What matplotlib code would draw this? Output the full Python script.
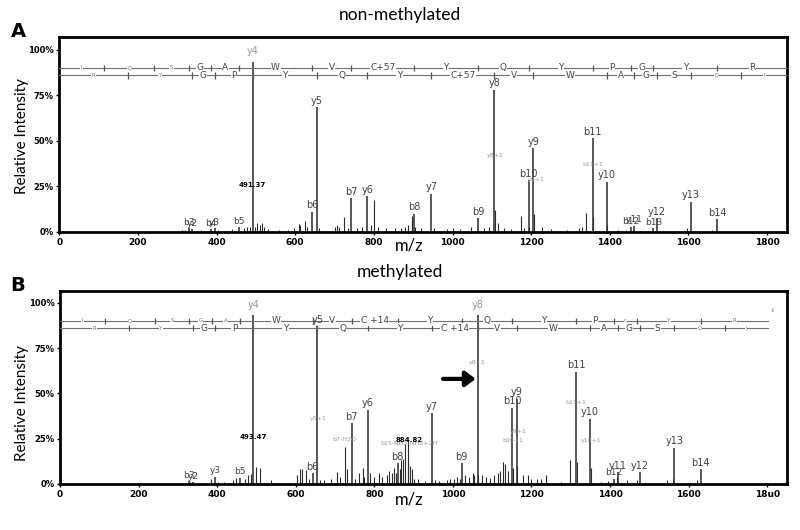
import matplotlib
matplotlib.use("Agg")
import matplotlib.pyplot as plt

# ── Data ──────────────────────────────────────────────────────────────────────
# ion series (m/z) for IQSGAWVCYQYPGYR, carbamidomethyl (+57) vs methyl (+14) Cys
b_ions_a = [114.1, 242.2, 329.2, 386.2, 457.2, 643.3, 742.4, 902.4, 1065.5,
            1193.5, 1356.6, 1453.6, 1510.7, 1673.7]
y_ions_a = [175.1, 338.2, 395.2, 492.3, 655.3, 783.4, 946.4, 1106.5, 1205.5,
            1391.6, 1462.7, 1519.7, 1606.7, 1734.8]
b_ions_b = [114.1, 242.2, 329.2, 386.2, 457.2, 643.3, 742.4, 859.4, 1022.5,
            1150.5, 1313.6, 1410.6, 1467.7, 1630.7]
y_ions_b = [175.1, 338.2, 395.2, 492.3, 655.3, 783.4, 946.4, 1063.5, 1162.5,
            1348.6, 1419.7, 1476.7, 1563.7, 1691.8]

seq_top_a = ["I", "Q", "S", "G", "A", "W", "V", "C+57", "Y", "Q", "Y", "P", "G", "Y", "R"]
seq_bot_a = ["R", "Y", "G", "P", "Y", "Q", "Y", "C+57", "V", "W", "A", "G", "S", "Q", "I"]
seq_top_b = ["I", "Q", "S", "G", "A", "W", "V", "C +14", "Y", "Q", "Y", "P", "c", "Y", "R"]
seq_bot_b = ["R", "Y", "G", "P", "Y", "Q", "Y", "C +14", "V", "W", "A", "G", "S", "Q", "I"]
ladder_end_a = 1851
ladder_end_b = 1802

# labelled peaks: (label, m/z, relative intensity %)
lab_a = ["b3", "y2", "b4", "y3", "b5", "y4", "b6", "y5", "b7", "y6", "b8", "y7",
         "b9", "y8", "b10", "y9", "b11", "y10", "b12", "y11", "b13", "y12", "y13", "b14"]
mz_a = [329.2, 338.2, 386.2, 395.2, 457.2, 492.3, 643.3, 655.3, 742.4, 783.4, 902.4,
        946.4, 1065.5, 1106.5, 1193.5, 1205.5, 1356.6, 1391.6, 1453.6, 1462.7,
        1510.7, 1519.7, 1606.7, 1673.7]
int_a = [2.0, 1.5, 1.5, 2.0, 2.5, 93.5, 11.0, 68.5, 18.5, 19.5, 10.0, 21.0,
         7.5, 78.0, 28.5, 46.0, 51.5, 27.5, 2.5, 3.5, 2.0, 7.5, 16.5, 7.0]

lab_b = ["b3", "y2", "y3", "b5", "y4", "b6", "y5", "b7", "y6", "b8", "y7", "b9",
         "y8", "b10", "y9", "b11", "y10", "b12", "y11", "y12", "y13", "b14"]
mz_b = [329.2, 338.2, 395.2, 457.2, 492.3, 643.3, 655.3, 742.4, 783.4, 859.4,
        946.4, 1022.5, 1063.5, 1150.5, 1162.5, 1313.6, 1348.6, 1410.6, 1419.7,
        1476.7, 1563.7, 1630.7]
int_b = [1.5, 1.0, 4.0, 3.5, 93.0, 6.0, 87.0, 33.5, 41.0, 11.5, 39.0, 11.5,
         93.0, 42.0, 47.0, 62.0, 36.0, 3.0, 6.5, 6.5, 20.0, 8.0]

# unlabelled peaks
noise_mz_a = [300, 312, 320, 345, 360, 372, 404, 420, 440, 470, 478, 485, 497, 503,
              510, 515, 521, 532, 560, 582, 598, 609, 612, 625, 630, 660, 700, 707,
              712, 725, 735, 758, 770, 792, 801, 810, 830, 855, 870, 880, 888, 897,
              905, 920, 952, 985, 1000, 1020, 1048, 1080, 1093, 1107.5, 1115, 1130,
              1150, 1175, 1182, 1195, 1207, 1228, 1250, 1290, 1322, 1328, 1340,
              1357.6, 1393, 1420, 1440, 1595, 1660]
noise_int_a = [0.8, 1.0, 1.2, 0.8, 1.0, 0.7, 1.0, 0.8, 1.5, 2.0, 3.0, 2.5, 3.0, 5.0,
               4.0, 5.0, 3.0, 1.5, 1.0, 1.0, 2.0, 4.5, 4.0, 6.0, 3.0, 2.0, 3.0, 4.0,
               2.5, 8.0, 2.0, 2.0, 3.0, 4.0, 17.5, 3.0, 2.0, 2.0, 2.0, 3.0, 4.0, 9.0,
               2.5, 2.0, 2.0, 1.5, 2.0, 1.5, 3.0, 2.0, 3.0, 12.0, 5.0, 2.0,
               1.5, 8.5, 2.0, 3.0, 10.0, 3.0, 1.5, 1.0, 2.0, 3.0, 10.5,
               8.0, 4.0, 1.0, 1.0, 2.0, 1.0]

noise_mz_b = [300, 330, 385, 402, 418, 440, 447, 470, 478, 486, 500, 510, 538, 602,
              610, 615, 625, 635, 662, 672, 690, 705, 712, 724.4, 730, 752, 760, 770,
              775, 790, 800, 812, 820, 832, 838, 845, 851, 855, 865, 868, 872, 878,
              884.8, 887, 890, 895, 900, 910, 930, 955, 965, 985, 992, 1002, 1010,
              1018, 1030, 1040, 1050, 1055, 1065, 1075, 1085, 1095, 1105, 1115, 1120,
              1128, 1132, 1140, 1152, 1164, 1178, 1190, 1200, 1215, 1225, 1236, 1275,
              1298, 1315, 1350.6, 1378, 1395, 1418, 1442, 1468, 1545, 1560, 1622]
noise_int_b = [0.5, 1.0, 3.0, 1.0, 1.0, 2.0, 3.5, 3.0, 5.0, 5.5, 9.5, 9.0, 2.0, 5.0,
               8.5, 8.0, 7.5, 3.0, 2.0, 2.0, 2.5, 6.5, 4.0, 20.5, 8.0, 3.0, 6.0, 9.0,
               4.0, 6.0, 4.0, 6.0, 4.0, 5.0, 7.0, 6.0, 9.0, 6.0, 8.0, 13.0, 14.0, 22.0,
               24.5, 12.0, 10.0, 8.0, 3.0, 3.0, 1.5, 2.0, 1.5, 2.0, 3.0, 3.0, 4.0,
               3.0, 5.0, 4.0, 6.0, 5.0, 5.0, 5.0, 4.0, 3.5, 5.0, 6.0, 7.0,
               12.0, 11.0, 7.0, 9.0, 10.0, 5.0, 5.0, 3.0, 2.5, 3.0, 5.0, 1.0,
               13.0, 12.0, 9.0, 1.0, 1.5, 4.0, 2.0, 2.0, 2.0, 3.0, 2.0]

# faint annotations: (text, m/z, %)
note_a = [("y8+1", 1108, 42), ("b11+1", 1356, 37), ("y9+1", 1213, 29)]
note_b = [("y5+1", 657, 36), ("b7-H2O", 724, 24.5), ("b15-NH3-NH3+2H", 888, 22.5),
          ("y8+1", 1063, 67), ("b11+1", 1312, 45), ("y9+1", 1167, 29),
          ("b10+1", 1152, 24), ("y10+1", 1353, 24)]
mass_a = ("491.37", 492, 26)
mass_b = [("493.47", 492, 26), ("884.82", 888, 24.5)]

xticks = [0, 200, 400, 600, 800, 1000, 1200, 1400, 1600, 1800]
xlabels_a = ["0", "200", "400", "600", "800", "1000", "1200", "1400", "1600", "1800"]
xlabels_b = ["0", "200", "400", "600", "800", "1000", "1200", "1400", "1600", "18u0"]
yticks = [0, 25, 50, 75, 100]
ylabels = ["0%", "25%", "50%", "75%", "100%"]

TEXT_FONT = ["Lato", "DejaVu Sans"]
PEAK_COL = "#2b2b2b"
LAB_COL = "#444444"
FAINT = "#9a9a9a"


def draw_ladder(ax, ions, residues, end, y, small):
    bounds = [0] + ions + [end]
    ax.plot([0, end], [y, y], color="#707070", lw=0.8, zorder=3)
    ax.vlines(ions, y - 1.8, y + 1.8, color="#555555", lw=0.9, zorder=3)
    for i, res in enumerate(residues):
        xm = (bounds[i] + bounds[i + 1]) / 2
        sm = i in small
        ax.text(xm, y, res, ha="center", va="center",
                fontsize=3.8 if sm else 6.5, color="#777777" if sm else "#444444",
                bbox=dict(facecolor="white", edgecolor="none", pad=0.3), zorder=4)


def draw_panel(ax, labels, mz, inten, nmz, nint, ymax, xlabels, faint_labels):
    ax.vlines(nmz, 0, nint, color=PEAK_COL, lw=0.8, zorder=2)
    ax.vlines(mz, 0, inten, color=PEAK_COL, lw=1.1, zorder=2)
    for lab, x, h in zip(labels, mz, inten):
        faint = lab in faint_labels
        ax.text(x, h + (3 if faint else 0.8), lab, ha="center", va="bottom",
                fontsize=6.5 if h < 5 else 7, color=FAINT if faint else LAB_COL, zorder=5)
    ax.set_xlim(0, 1851)
    ax.set_ylim(0, ymax)
    ax.set_xticks(xticks)
    ax.set_xticklabels(xlabels, fontsize=6.5, fontweight="bold")
    ax.set_yticks(yticks)
    ax.set_yticklabels(ylabels, fontsize=6, fontweight="bold")
    ax.tick_params(length=2.5, width=1, pad=1.5)
    for s in ax.spines.values():
        s.set_linewidth(2)


fig = plt.figure(figsize=(8, 5.3), dpi=100)
ax_a = fig.add_axes([0.074, 0.5623, 0.91, 0.368])
ax_b = fig.add_axes([0.075, 0.0868, 0.909, 0.3642])

# ── A: non-methylated ─────────────────────────────────────────────────────────
draw_panel(ax_a, lab_a, mz_a, int_a, noise_mz_a, noise_int_a, 107, xlabels_a, ["y4"])
draw_ladder(ax_a, b_ions_a, seq_top_a, ladder_end_a, 90, [0, 1, 2])
draw_ladder(ax_a, y_ions_a, seq_bot_a, ladder_end_a, 86, [0, 1, 13, 14])
for txt, x, h in note_a:
    ax_a.text(x, h, txt, ha="center", va="center", fontsize=4.5, color=FAINT, zorder=5)
ax_a.text(mass_a[1], mass_a[2], mass_a[0], ha="center", va="center",
          fontsize=5, fontweight="bold", color="black", zorder=5)

# ── B: methylated ─────────────────────────────────────────────────────────────
draw_panel(ax_b, lab_b, mz_b, int_b, noise_mz_b, noise_int_b, 106.5, xlabels_b, ["y4", "y8"])
draw_ladder(ax_b, b_ions_b, seq_top_b, ladder_end_b, 90, [0, 1, 2, 3, 4, 12, 13, 14])
draw_ladder(ax_b, y_ions_b, seq_bot_b, ladder_end_b, 86, [0, 1, 13, 14])
for txt, x, h in note_b:
    ax_b.text(x, h, txt, ha="center", va="center", fontsize=4.5, color=FAINT, zorder=5)
for txt, x, h in mass_b:
    ax_b.text(x, h, txt, ha="center", va="center", fontsize=5, fontweight="bold",
              color="black", zorder=6)
ax_b.text(1812, 96, "i", ha="center", va="center", fontsize=4.5, color="#333333")
ax_b.annotate("", xy=(1058, 58), xytext=(975, 58),
              arrowprops=dict(arrowstyle="-|>,head_length=0.6,head_width=0.45",
                              lw=3, color="black", shrinkA=0, shrinkB=0))

# ── Titles, axis labels & panel letters ──────────────────────────────────────
fig.text(0.5, 0.972, "non-methylated", ha="center", va="center", fontsize=12.5, family=TEXT_FONT)
fig.text(0.5, 0.487, "methylated", ha="center", va="center", fontsize=12.5, family=TEXT_FONT)
fig.text(0.511, 0.536, "m/z", ha="center", va="center", fontsize=12, family=TEXT_FONT)
fig.text(0.511, 0.057, "m/z", ha="center", va="center", fontsize=12, family=TEXT_FONT)
fig.text(0.0275, 0.743, "Relative Intensity", rotation=90, ha="center", va="center",
         fontsize=11, family=TEXT_FONT)
fig.text(0.0275, 0.24, "Relative Intensity", rotation=90, ha="center", va="center",
         fontsize=11, family=TEXT_FONT)
fig.text(0.0225, 0.94, "A", ha="center", va="center", fontsize=14, fontweight="bold")
fig.text(0.0225, 0.462, "B", ha="center", va="center", fontsize=14, fontweight="bold")

plt.savefig("out.png", dpi=100)
plt.close()
